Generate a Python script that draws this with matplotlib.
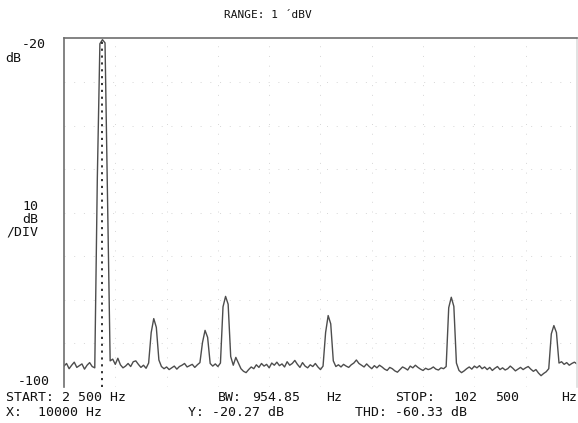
import matplotlib.pyplot as plt
import numpy as np

# sweep settings
start_hz = 2500
stop_hz = 102500
step_hz = 500
marker_hz = 10000

# trace levels in dB, one value every 500 Hz from START to STOP
levels_db = [
    -95.2, -94.6, -95.8, -95.0, -94.3, -95.5, -95.1, -94.7, -95.9, -95.0,
    -94.4, -95.3, -95.6, -52.0, -21.2, -20.27, -21.0, -58.0, -94.0, -93.6,
    -94.8, -93.4, -94.9, -95.6, -95.2, -94.6, -95.3, -94.2, -94.0, -94.8,
    -95.5, -95.0, -95.7, -94.5, -87.5, -84.3, -86.3, -93.8, -95.3, -95.8,
    -95.4, -96.0, -95.6, -95.2, -95.9, -95.3, -95.0, -94.6, -95.4, -95.1,
    -94.8, -95.5, -94.9, -94.4, -89.8, -87.0, -88.6, -94.6, -95.2, -94.7,
    -95.3, -94.5, -81.6, -79.2, -81.0, -93.0, -95.0, -93.2, -94.5, -95.8,
    -96.4, -96.7, -96.0, -95.4, -95.8, -94.9, -95.5, -94.6, -95.2, -94.8,
    -95.6, -94.5, -95.0, -94.3, -95.1, -94.7, -95.4, -94.2, -95.0, -94.6,
    -93.9, -94.8, -95.5, -94.4, -95.2, -95.6, -94.9, -95.3, -94.6, -95.4,
    -96.0, -95.2, -87.5, -83.6, -85.5, -94.0, -95.3, -94.9, -95.4, -94.8,
    -95.2, -95.5, -94.9, -94.5, -93.8, -94.6, -95.0, -95.4, -94.7, -95.3,
    -95.8, -95.1, -95.6, -95.0, -95.4, -95.9, -96.2, -95.5, -95.8, -96.3,
    -96.6, -96.0, -95.4, -95.7, -96.1, -95.2, -95.6, -95.0, -95.5, -95.9,
    -96.2, -95.7, -96.0, -95.8, -95.4, -95.9, -96.1, -95.6, -95.8, -95.3,
    -81.8, -79.4, -81.5, -94.5, -96.2, -96.7, -96.3, -95.8, -95.4, -95.9,
    -95.2, -95.6, -95.1, -95.8, -95.4, -96.0, -95.5, -96.2, -95.7, -95.3,
    -96.0, -95.6, -96.1, -95.8, -95.2, -95.7, -96.3, -95.9, -95.5, -96.0,
    -95.6, -95.3, -95.9, -96.4, -96.0, -96.8, -97.4, -96.9, -96.5, -95.8,
    -87.8, -85.9, -87.5, -94.5, -94.2, -94.8, -94.4, -95.0, -94.6, -94.3,
    -94.7,
]
freqs_hz = np.arange(start_hz, stop_hz + step_hz, step_hz)
assert len(freqs_hz) == len(levels_db), (len(freqs_hz), len(levels_db))

y_top, y_bottom = -20, -100

fig = plt.figure(figsize=(5.78, 4.23), dpi=100)
ax = fig.add_axes([0.1107, 0.0851, 0.8875, 0.8239])

# faint screen graticule
for f in np.linspace(start_hz, stop_hz, 11)[1:-1]:
    ax.axvline(f, color="#d6d6d6", lw=0.7, ls=(0, (1, 9)), zorder=0)
for y in range(y_bottom + 10, y_top, 10):
    ax.axhline(y, color="#d6d6d6", lw=0.7, ls=(0, (1, 9)), zorder=0)

ax.plot(freqs_hz, levels_db, color="#4d4d4d", lw=1.0, zorder=2)
ax.axvline(marker_hz, color="#222222", lw=1.3, ls=(0, (1.2, 2.6)), zorder=3)

ax.set_xlim(start_hz, stop_hz)
ax.set_ylim(y_bottom, y_top)
ax.set_xticks([])
ax.set_yticks([])
for side in ["left", "top", "right"]:
    ax.spines[side].set_color("#6e6e6e")
    ax.spines[side].set_linewidth(1.2)
ax.spines["right"].set_color("#dddddd")
ax.spines["bottom"].set_visible(False)

mono = {"family": "DejaVu Sans Mono", "color": "#111111", "fontsize": 9.5}


def px(x, y, s, ha="left", size=None):
    kw = dict(mono)
    if size:
        kw["fontsize"] = size
    fig.text(x / 578, 1 - y / 423, s, ha=ha, va="center", **kw)


px(268, 15, "RANGE: 1 ´dBV", ha="center", size=8)
px(46, 44, "-20", ha="right")
px(5, 58, "dB")
px(38, 206, "10", ha="right")
px(38, 219, "dB", ha="right")
px(38, 232, "/DIV", ha="right")
px(50, 381, "-100", ha="right")

# bottom status lines, pieces placed where the plotter put them
px(6, 397, "START: 2 500 Hz")
px(218, 397, "BW:")
px(252, 397, "954.85")
px(342, 397, "Hz", ha="right")
px(395, 397, "STOP:")
px(453, 397, "102")
px(495, 397, "500")
px(577, 397, "Hz", ha="right")
px(6, 412, "X:  10000 Hz")
px(188, 412, "Y: -20.27 dB")
px(355, 412, "THD: -60.33 dB")

fig.savefig("out.png", dpi=100, facecolor="white")
